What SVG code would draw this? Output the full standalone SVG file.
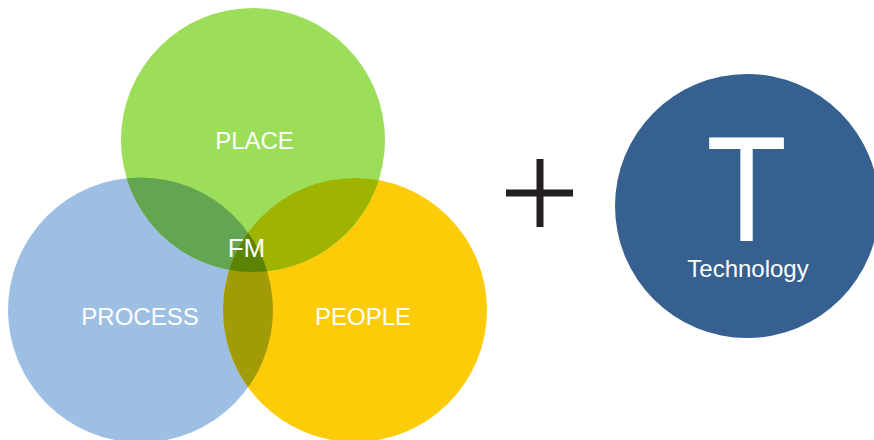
<svg xmlns="http://www.w3.org/2000/svg" width="874" height="440" viewBox="0 0 874 440">
  <style>
    .lbl { font-family: "Liberation Sans", Arial, sans-serif; fill: #ffffff; text-anchor: middle; }
  </style>
  <defs>
    <clipPath id="clipPlace"><circle cx="253" cy="140" r="132"/></clipPath>
    <clipPath id="clipProcess"><circle cx="140.5" cy="310" r="132.5"/></clipPath>
    <clipPath id="clipPeople"><circle cx="355" cy="310" r="132"/></clipPath>
  </defs>
  <rect width="874" height="440" fill="#ffffff"/>

  <!-- three-set Venn -->
  <g id="process">
    <circle cx="140.5" cy="310" r="132.5" fill="#9dbfe4"/>
  </g>
  <g id="people">
    <circle cx="355" cy="310" r="132" fill="#fccc08"/>
  </g>
  <g id="place">
    <circle cx="253" cy="140" r="132" fill="#9cde5a"/>
  </g>

  <!-- overlap regions -->
  <g id="overlaps">
    <circle cx="253" cy="140" r="132" fill="#63a551" clip-path="url(#clipProcess)"/>
    <circle cx="253" cy="140" r="132" fill="#9eb400" clip-path="url(#clipPeople)"/>
    <circle cx="355" cy="310" r="132" fill="#a29b08" clip-path="url(#clipProcess)"/>
    <g clip-path="url(#clipPlace)">
      <circle cx="355" cy="310" r="132" fill="#5c8404" clip-path="url(#clipProcess)"/>
    </g>
  </g>

  <g id="labels">
    <text class="lbl" x="254.5" y="149" font-size="24">PLACE</text>
    <text class="lbl" x="140" y="325" font-size="24">PROCESS</text>
    <text class="lbl" x="363" y="325" font-size="24">PEOPLE</text>
    <text class="lbl" x="246.5" y="257" font-size="26">FM</text>
  </g>

  <!-- plus sign -->
  <g id="plus" fill="#231f20">
    <rect x="506" y="189.5" width="67" height="7"/>
    <rect x="536.5" y="159" width="7" height="68"/>
  </g>

  <g id="technology">
    <circle cx="747" cy="206" r="132" fill="#36608f"/>
    <text class="lbl" font-size="150" transform="translate(746.5 241) scale(0.88 1)">T</text>
    <text class="lbl" x="748" y="277" font-size="24">Technology</text>
  </g>

  <g id="connectors"/>
</svg>
